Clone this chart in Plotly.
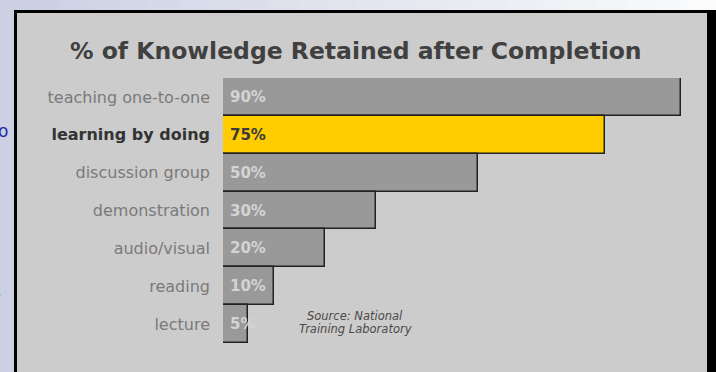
import plotly.graph_objects as go

W, H = 716, 372

categories = ["teaching one-to-one", "learning by doing", "discussion group",
              "demonstration", "audio/visual", "reading", "lecture"]
values = [90, 75, 50, 30, 20, 10, 5]
bar_colors = ["#999999", "#ffcc00", "#999999", "#999999", "#999999", "#999999", "#999999"]
label_colors = ["#d4d4d4", "#3a3a3a", "#d4d4d4", "#d4d4d4", "#d4d4d4", "#d4d4d4", "#d4d4d4"]
tick_colors = ["#7a7a7a", "#333333", "#7a7a7a", "#7a7a7a", "#7a7a7a", "#7a7a7a", "#7a7a7a"]
highlight = "learning by doing"
title_text = "% of Knowledge Retained after Completion"
source_lines = ["Source: National", "Training Laboratory"]

FONT = "DejaVu Sans"

def px_x(p):
    return p / W

def px_y(p):
    return 1 - p / H

ticktext = []
for c, col in zip(categories, tick_colors):
    t = f"<span style='color:{col}'>{c}</span>"
    if c == highlight:
        t = f"<b>{t}</b>"
    ticktext.append(t)

fig = go.Figure()
fig.add_trace(go.Bar(
    y=categories, x=values, orientation="h",
    marker=dict(color=bar_colors, line=dict(color="#222222", width=1.5)),
    hoverinfo="skip",
))

shapes = []
# background gradient strips (decoration)
n = 24
c0 = (0xCC, 0xD0, 0xE3)
c1 = (0xFB, 0xFB, 0xFC)
for i in range(n):
    t = i / (n - 1)
    col = "rgb(%d,%d,%d)" % tuple(int(a + (b - a) * t) for a, b in zip(c0, c1))
    shapes.append(dict(type="rect", xref="paper", yref="paper", layer="below",
                       x0=px_x(W * i / n), x1=px_x(W * (i + 1) / n) + 0.002,
                       y0=0, y1=1, fillcolor=col, line=dict(width=0)))
# panel with black frame
shapes.append(dict(type="rect", xref="paper", yref="paper", layer="below",
                   x0=px_x(14), x1=px_x(716), y0=px_y(372), y1=px_y(10),
                   fillcolor="#000000", line=dict(width=0)))
shapes.append(dict(type="rect", xref="paper", yref="paper", layer="below",
                   x0=px_x(17), x1=px_x(707), y0=px_y(372), y1=px_y(13),
                   fillcolor="#cccccc", line=dict(width=0)))

annotations = []
for c, v, col in zip(categories, values, label_colors):
    annotations.append(dict(x=0, y=c, xref="x", yref="y", text=f"<b>{v}%</b>",
                            showarrow=False, xanchor="left", xshift=5,
                            font=dict(family=FONT, size=15, color=col)))
annotations.append(dict(x=px_x(356), y=px_y(51), xref="paper", yref="paper",
                        text=f"<b>{title_text}</b>", showarrow=False,
                        xanchor="center", yanchor="middle",
                        font=dict(family=FONT, size=23.5, color="#404040")))
for i, line in enumerate(source_lines):
    annotations.append(dict(x=px_x(355), y=px_y(316 + 12.5 * i), xref="paper", yref="paper",
                            text=f"<i>{line}</i>", showarrow=False,
                            xanchor="center", yanchor="middle", borderpad=0,
                            font=dict(family=FONT, size=11.5, color="#4a4a4a")))
# fragments of slide text at left edge
annotations.append(dict(x=px_x(10), y=px_y(131), xref="paper", yref="paper",
                        text="o", showarrow=False, xanchor="right", yanchor="middle",
                        font=dict(family=FONT, size=17, color="#2a2aa8")))
annotations.append(dict(x=px_x(3), y=px_y(292), xref="paper", yref="paper",
                        text="s", showarrow=False, xanchor="right", yanchor="middle",
                        font=dict(family=FONT, size=17, color="#5a5ab0")))

fig.update_layout(
    width=W, height=H, margin=dict(l=0, r=0, t=0, b=0),
    paper_bgcolor="#dfe1ee", plot_bgcolor="rgba(0,0,0,0)",
    bargap=0, showlegend=False,
    shapes=shapes, annotations=annotations,
    xaxis=dict(domain=[px_x(223), px_x(707)], range=[0, (707 - 223) / 5.09],
               showgrid=False, zeroline=False, showticklabels=False, ticks=""),
    yaxis=dict(domain=[px_y(343), px_y(78)], range=[6.5, -0.5],
               tickvals=categories, ticktext=ticktext,
               tickfont=dict(family=FONT, size=16),
               ticks="", ticklabelstandoff=12,
               showgrid=False, zeroline=False),
)

fig.write_html("out.html")
